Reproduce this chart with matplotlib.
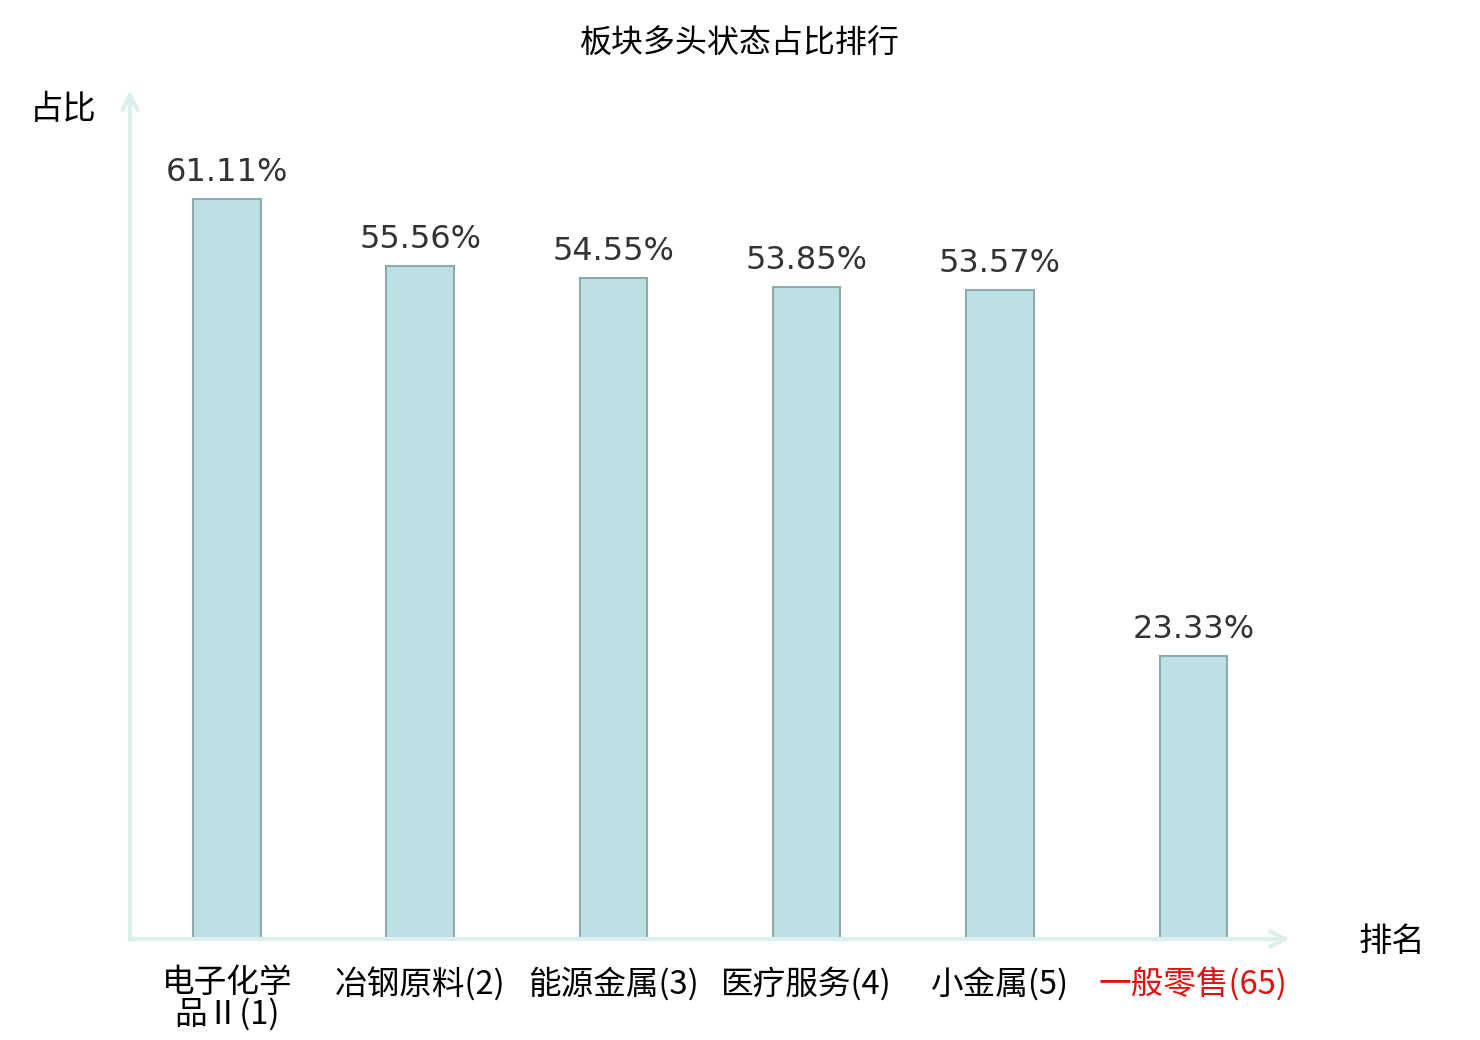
import matplotlib
matplotlib.use("Agg")
import matplotlib.pyplot as plt

plt.rcParams["font.family"] = ["Noto Sans CJK SC", "DejaVu Sans"]

# data
sectors = ["电子化学\n品Ⅱ(1)", "冶钢原料(2)", "能源金属(3)", "医疗服务(4)", "小金属(5)", "一般零售(65)"]
ratios = [61.11, 55.56, 54.55, 53.85, 53.57, 23.33]
highlight = "一般零售(65)"

fig = plt.figure(figsize=(14.8, 10.4), dpi=100)
ax = fig.add_axes([130 / 1480, 101 / 1040, 1160 / 1480, 849 / 1040])

x = list(range(len(sectors)))
bars = ax.bar(x, ratios, width=0.35, color="#bce0e3", edgecolor="#8eaaaa", linewidth=1.5)

for b, v in zip(bars, ratios):
    ax.annotate(f"{v:.2f}%", (b.get_x() + b.get_width() / 2, v),
                xytext=(0, 8), textcoords="offset points",
                ha="center", va="bottom", fontsize=23, color="#333333",
                fontfamily=["DejaVu Sans"])

ax.set_xlim(-0.5, 5.5)
ax.set_ylim(0, 70.1)
ax.set_yticks([])
ax.set_xticks(x)
ax.set_xticklabels(sectors, fontsize=23.5, linespacing=0.95)
ax.tick_params(axis="x", length=0, pad=20)
for lbl in ax.get_xticklabels():
    if lbl.get_text() == highlight:
        lbl.set_color("#e01010")

for s in ax.spines.values():
    s.set_visible(False)

# axis arrows
arrow_kw = dict(arrowstyle="->,head_length=1.1,head_width=0.55", color="#dcf0ed", lw=3,
                shrinkA=0, shrinkB=0)
ax.annotate("", xy=(0, 1), xytext=(0, 0), xycoords="axes fraction", arrowprops=arrow_kw)
ax.annotate("", xy=(1, 0), xytext=(0, 0), xycoords="axes fraction", arrowprops=arrow_kw)

fig.text(63 / 1480, 1 - 110 / 1040, "占比", ha="center", va="center", fontsize=24)
fig.text(1392 / 1480, 1 - 941 / 1040, "排名", ha="center", va="center", fontsize=24)
fig.text(740 / 1480, 1 - 44 / 1040, "板块多头状态占比排行", ha="center", va="center", fontsize=23)

fig.savefig("out.png", dpi=100)
